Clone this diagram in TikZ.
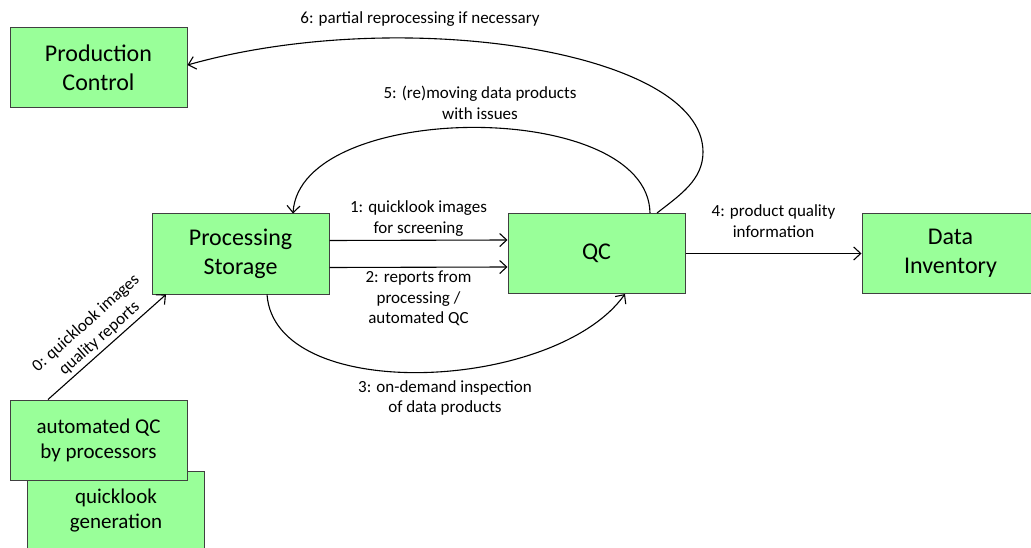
\documentclass[tikz,border=0pt]{standalone}
\usepackage{fontspec}
\setmainfont{Carlito}
\usetikzlibrary{arrows.meta}
\definecolor{boxfill}{HTML}{99FF99}
\definecolor{boxline}{HTML}{404040}

\begin{document}
\begin{tikzpicture}[x=1pt, y=-1pt, >={Straight Barb[length=7pt,width=13pt]},
  box/.style={draw=boxline, fill=boxfill, line width=1pt, minimum width=177pt, minimum height=80pt, inner sep=0pt, align=center, font=\fontsize{24}{29}\selectfont},
  smallbox/.style={box, font=\fontsize{21}{25}\selectfont},
  flow/.style={->, line width=1.1pt},
  lbl/.style={align=center, font=\fontsize{17}{20.5}\selectfont}]
\useasboundingbox (0,0) rectangle (1031,548);
% boxes
\node[box] (pc) at (98.5,67.5) {Production\\Control};
\node[box] (ps) at (240.5,254) {Processing\\Storage};
\node[box] (qc) at (596.5,253.5) {QC};
\node[box] (di) at (950.5,253.5) {Data\\Inventory};
\node[smallbox] (qlg) at (116,511) {quicklook\\generation};
\node[smallbox] (aqc) at (98.5,440) {automated QC\\by processors};
\coordinate (bend6) at (703,152);
% flows
\draw[flow] ([xshift=-50.5pt]aqc.north) -- ([xshift=-74.5pt]ps.south) node[lbl, midway, above, sloped] {0: quicklook images\\quality reports};
\draw[flow] ([yshift=13.5pt]ps.east) -- ([yshift=13.5pt]qc.west) node[lbl, midway, above] {1: quicklook images\\for screening};
\draw[flow] ([yshift=-13.5pt]ps.east) -- ([yshift=-13.5pt]qc.west) node[lbl, midway, below] {2: reports from\\processing /\\automated QC};
\draw[flow] ([xshift=26.5pt]ps.south) .. controls (275,405) and (555,392) .. ([xshift=28.5pt]qc.south);
\node[lbl] (l3) at (445,398) {3: on-demand inspection\\of data products};
\draw[flow] (qc.east) -- (di.west) node[lbl, midway, above=12pt] {4: product quality\\information};
\draw[flow] ([xshift=53.5pt]qc.north) .. controls (648,98) and (300,100) .. ([xshift=52.5pt]ps.north);
\node[lbl] (l5) at (480,103) {5: (re)moving data products\\with issues};
\draw[flow] ([xshift=60.5pt]qc.north) .. controls (680,195) and (703,180) .. (bend6) .. controls (703,50) and (400,5) .. ([yshift=2.5pt]pc.east);
\node[lbl] (l6) at (420,19) {6: partial reprocessing if necessary};
\end{tikzpicture}
\end{document}
